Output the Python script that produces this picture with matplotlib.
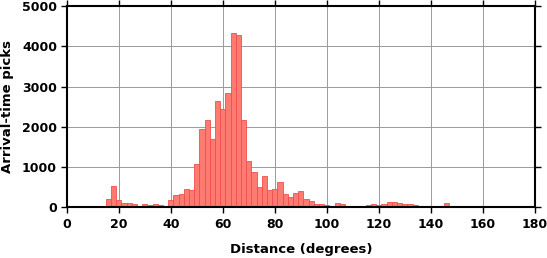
import matplotlib
matplotlib.use("Agg")
import matplotlib.pyplot as plt
import numpy as np

plt.rcParams['font.family'] = ['DejaVu Sans']

# bin centres (degrees), 2-degree bins
centers = list(range(0, 182, 2))
counts = [
    30, 10, 10, 10, 15, 15, 15, 35, 200, 530,      # 0-18
    185, 110, 110, 85, 40, 80, 55, 90, 60, 30,     # 20-38
    180, 300, 330, 450, 440, 1080, 1950, 2160, 1700, 2630,  # 40-58
    2440, 2830, 4340, 4270, 2180, 1160, 870, 500, 780, 440,  # 60-78
    450, 620, 330, 260, 360, 400, 215, 150, 85, 85,  # 80-98
    50, 35, 110, 80, 40, 25, 25, 25, 55, 85,       # 100-118
    60, 90, 125, 135, 105, 75, 75, 50, 35, 25,     # 120-138
    40, 17, 40, 110, 30, 15, 10, 8, 8, 8,          # 140-158
    8, 8, 8, 8, 8, 10, 8, 6, 6, 6,                 # 160-178
    6,                                             # 180
]
xticks = list(range(0, 181, 20))
yticks = list(range(0, 5001, 1000))

fig = plt.figure(figsize=(5.47, 2.58), dpi=100)
ax = fig.add_axes([0.1219, 0.1965, 0.978 - 0.1219, 0.9767 - 0.1965])

ax.bar(centers, counts, width=2, color='#ff7b72', edgecolor='#f0504a',
       linewidth=0.6, zorder=3)

ax.set_xlim(0, 180)
ax.set_ylim(0, 5000)
ax.set_xticks(xticks)
ax.set_yticks(yticks)
ax.grid(True, color='#9a9a9a', linewidth=0.7, zorder=0)
ax.set_axisbelow(True)

for s in ax.spines.values():
    s.set_linewidth(1.5)
    s.set_color('black')
    s.set_zorder(5)

ax.tick_params(axis='both', which='major', direction='out', length=4,
               width=1.0, labelsize=9, pad=3,
               top=True, right=True, labeltop=False, labelright=False)
ax.tick_params(axis='x', pad=4)
for lab in ax.get_xticklabels() + ax.get_yticklabels():
    lab.set_fontweight('bold')

ax.set_xlabel('Distance (degrees)', fontsize=9.5, fontweight='bold', labelpad=8)
ax.set_ylabel('Arrival-time picks', fontsize=9.5, fontweight='bold', labelpad=6)

fig.savefig('out.png', dpi=100)
